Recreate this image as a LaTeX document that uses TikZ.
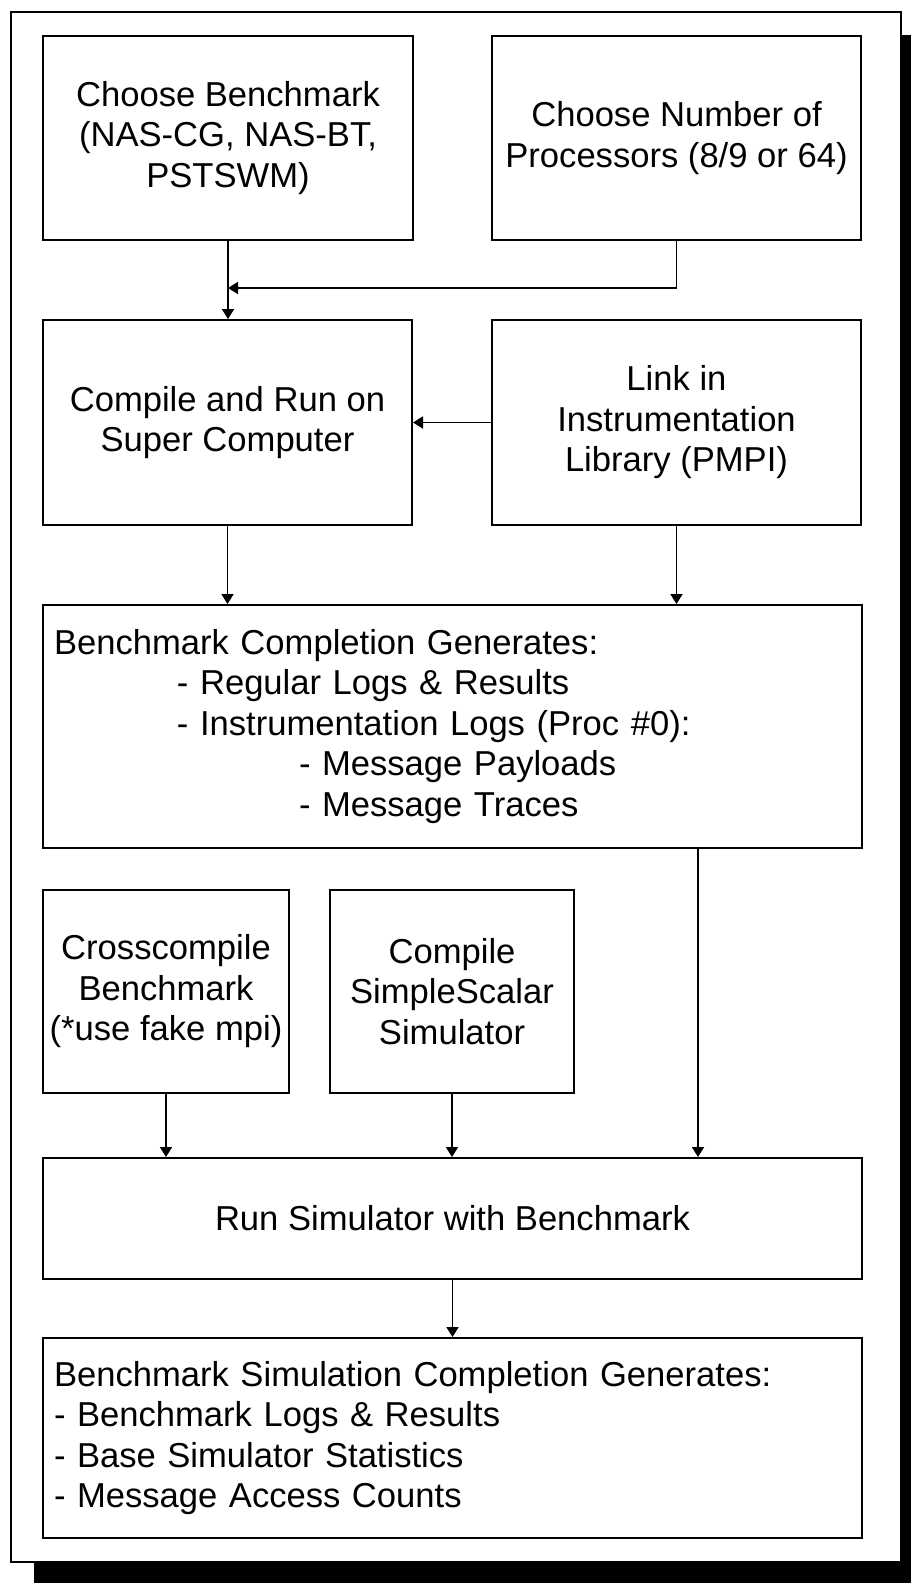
\documentclass[tikz,border=0pt]{standalone}
\usepackage{fontspec}
\setmainfont{Liberation Sans}
\usetikzlibrary{arrows.meta}
\begin{document}
\begin{tikzpicture}[x=1pt,y=-1pt,
  box/.style={draw, line width=2pt, inner sep=0pt, align=center,
    font=\fontsize{34.6pt}{40.5pt}\selectfont},
  listbox/.style={box, align=left, inner xsep=11pt, text width=797pt,
    minimum width=819pt},
  arr/.style={line width=1.8pt, -{Triangle[width=12pt,length=10pt]}}]
  \useasboundingbox (0,0) rectangle (911,1583);
  % frame with drop shadow
  \fill[black] (34,35) rectangle (911,1583);
  \draw[fill=white, line width=2pt] (11,12) rectangle (901,1562);

  % steps
  \node[box, minimum width=370pt, minimum height=204pt] (b1) at (228,138)
    {Choose Benchmark\\(NAS-CG, NAS-BT,\\PSTSWM)};
  \node[box, minimum width=369pt, minimum height=204pt] (b2) at (676.5,138)
    {Choose Number of\\Processors (8/9 or 64)};
  \node[box, minimum width=369pt, minimum height=205pt] (b3) at (227.5,422.5)
    {Compile and Run on\\Super Computer};
  \node[box, minimum width=369pt, minimum height=205pt] (b4) at (676.5,422.5)
    {Link in\\Instrumentation\\Library (PMPI)};
  \node[listbox, minimum height=243pt] (b5) at (452.5,726.5)
    {Benchmark Completion Generates:\\
     \hspace*{123pt}- Regular Logs \& Results\\
     \hspace*{123pt}- Instrumentation Logs (Proc \#0):\\
     \hspace*{245pt}- Message Payloads\\
     \hspace*{245pt}- Message Traces};
  \node[box, minimum width=246pt, minimum height=203pt] (b6) at (166,991.5)
    {Crosscompile\\Benchmark\\(*use fake mpi)};
  \node[box, minimum width=244pt, minimum height=203pt] (b7) at (452,991.5)
    {Compile\\SimpleScalar\\Simulator};
  \node[box, minimum width=819pt, minimum height=121pt] (b8) at (452.5,1218.5)
    {Run Simulator with Benchmark};
  \node[listbox, minimum height=200pt] (b9) at (452.5,1438)
    {Benchmark Simulation Completion Generates:\\
     - Benchmark Logs \& Results\\
     - Base Simulator Statistics\\
     - Message Access Counts};

  % connectors
  \coordinate (join) at (228,288);
  \coordinate (traces) at (698,848);
  \draw[line width=1.8pt] (b1.south) -- (join);
  \draw[arr] (b2.south) |- (join);
  \draw[arr] (join) -- (join |- b3.north);
  \draw[arr] (b4.west) -- (b3.east);
  \draw[arr] (b3.south) -- (b3.south |- b5.north);
  \draw[arr] (b4.south) -- (b4.south |- b5.north);
  \draw[arr] (traces) -- (traces |- b8.north);
  \draw[arr] (b6.south) -- (b6.south |- b8.north);
  \draw[arr] (b7.south) -- (b7.south |- b8.north);
  \draw[arr] (b8.south) -- (b8.south |- b9.north);
\end{tikzpicture}
\end{document}
